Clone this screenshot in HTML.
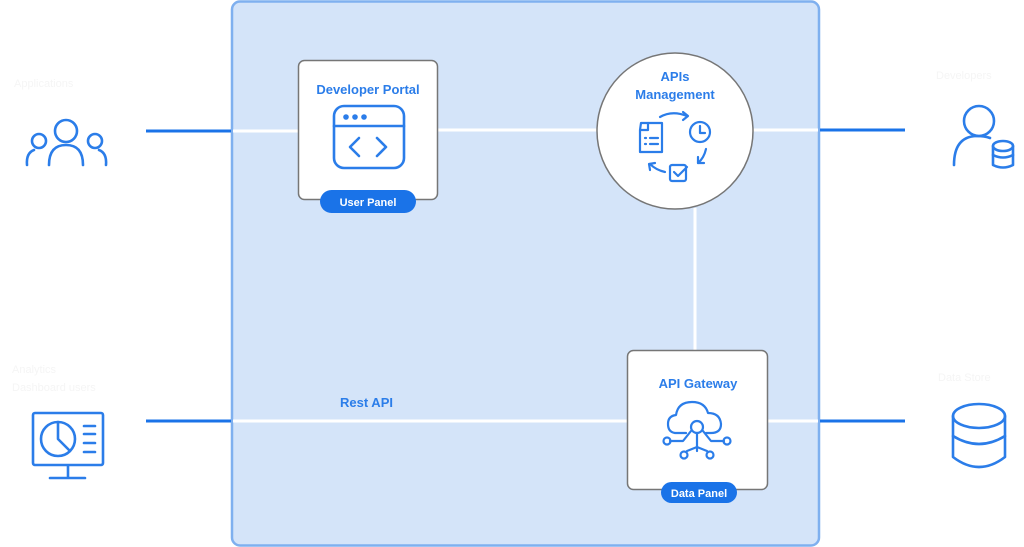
<!DOCTYPE html>
<html><head><meta charset="utf-8"><style>
html,body{margin:0;padding:0;background:#fff;}
body{width:1024px;height:547px;position:relative;overflow:hidden;font-family:"Liberation Sans",sans-serif;}
</style></head><body>
<svg width="1024" height="547" viewBox="0 0 1024 547" xmlns="http://www.w3.org/2000/svg" style="position:absolute;left:0;top:0">
<rect x="232" y="1.5" width="587" height="544" rx="8" fill="#d4e4f9" stroke="#7fb0ef" stroke-width="2.5"/>
<g stroke="#1a73e8" stroke-width="3">
<line x1="146" y1="131" x2="231" y2="131"/>
<line x1="820" y1="130" x2="905" y2="130"/>
<line x1="146" y1="421" x2="231" y2="421"/>
<line x1="820" y1="421" x2="905" y2="421"/>
</g>
<g stroke="#fff" stroke-width="3">
<line x1="233" y1="131" x2="298" y2="131"/>
<line x1="438" y1="130" x2="600" y2="130"/>
<line x1="750" y1="130" x2="818" y2="130"/>
<line x1="233" y1="421" x2="627" y2="421"/>
<line x1="768" y1="421" x2="818" y2="421"/>
<line x1="695" y1="208" x2="695" y2="350"/>
</g>
<!-- Dev portal -->
<rect x="298.5" y="60.5" width="139" height="139" rx="6" fill="#fff" stroke="#767676" stroke-width="1.5"/>
<text x="368" y="94" text-anchor="middle" font-size="13" font-weight="bold" fill="#2b7de9">Developer Portal</text>
<g fill="none" stroke="#2b7de9" stroke-width="2.6" stroke-linecap="round" stroke-linejoin="round">
<rect x="334" y="106" width="70" height="62" rx="10"/>
<line x1="334" y1="126" x2="404" y2="126"/>
<polyline points="359,138 350,147 359,156"/>
<polyline points="377,138 386,147 377,156"/>
</g>
<g fill="#2b7de9"><circle cx="346" cy="117" r="2.8"/><circle cx="355" cy="117" r="2.8"/><circle cx="364" cy="117" r="2.8"/></g>
<rect x="320" y="190" width="96" height="23" rx="11.5" fill="#1a73e8"/>
<text x="368" y="206" text-anchor="middle" font-size="11" font-weight="bold" fill="#fff">User Panel</text>
<!-- APIs management -->
<circle cx="675" cy="131" r="78" fill="#fff" stroke="#767676" stroke-width="1.5"/>
<text x="675" y="81" text-anchor="middle" font-size="13" font-weight="bold" fill="#2b7de9">APIs</text>
<text x="675" y="99" text-anchor="middle" font-size="13" font-weight="bold" fill="#2b7de9">Management</text>
<g fill="none" stroke="#2b7de9" stroke-width="2.2" stroke-linecap="round" stroke-linejoin="round">
<path d="M641 123 L649 123 L662 123 L662 152 L640 152 L640 130 Z"/>
<path d="M641 130 L648 130 L648 123"/>
<line x1="645" y1="138" x2="646" y2="138"/><line x1="650" y1="138" x2="658" y2="138"/>
<line x1="645" y1="144" x2="646" y2="144"/><line x1="650" y1="144" x2="658" y2="144"/>
<circle cx="700" cy="132" r="10"/>
<polyline points="700,126 700,133 705,133"/>
<path d="M660 117 Q672 110 687 116"/><polyline points="683,112 688,116 683,120"/>
<path d="M706 149 Q704 158 698 163"/><polyline points="698,157 698,163 704,163"/>
<path d="M665 172 Q656 170 650 164"/><polyline points="650,170 649,164 655,163"/>
<rect x="670" y="165" width="16" height="16" rx="2"/>
<polyline points="674,172 678,176 687,167"/>
</g>
<!-- Gateway -->
<rect x="627.5" y="350.5" width="140" height="139" rx="6" fill="#fff" stroke="#767676" stroke-width="1.5"/>
<text x="698" y="388" text-anchor="middle" font-size="13" font-weight="bold" fill="#2b7de9">API Gateway</text>
<g fill="none" stroke="#2b7de9" stroke-width="2.2" stroke-linecap="round" stroke-linejoin="round">
<path d="M686 433 L675 433 Q668 432 668 424 Q668 416 676 415 Q678 402 692 402 Q705 402 708 413 Q720 413 721 424 Q721 433 711 433 L706 433"/>
<circle cx="697" cy="427" r="6"/>
<line x1="697" y1="433" x2="697" y2="451"/>
<polyline points="691,431 683,441 670,441"/>
<polyline points="703,431 711,441 724,441"/>
<circle cx="667" cy="441" r="3.5"/><circle cx="727" cy="441" r="3.5"/>
<polyline points="697,447 687,451"/><polyline points="697,447 707,451"/>
<circle cx="684" cy="455" r="3.5"/><circle cx="710" cy="455" r="3.5"/>
</g>
<rect x="661" y="482" width="76" height="21" rx="10.5" fill="#1a73e8"/>
<text x="699" y="497" text-anchor="middle" font-size="11" font-weight="bold" fill="#fff">Data Panel</text>
<text x="340" y="407" font-size="13" font-weight="bold" fill="#2b7de9">Rest API</text>
<!-- left icons -->
<g fill="none" stroke="#2b7de9" stroke-width="2.6" stroke-linecap="round" stroke-linejoin="round">
<circle cx="66" cy="131" r="11"/>
<path d="M49 165 Q49 145 66 145 Q83 145 83 165"/>
<circle cx="39" cy="141" r="7"/>
<path d="M27 165 Q26 153 34 150"/>
<circle cx="95" cy="141" r="7"/>
<path d="M106 165 Q107 153 99 150"/>
<rect x="33" y="413" width="70" height="52" rx="2"/>
<line x1="68" y1="466" x2="68" y2="477"/><line x1="50" y1="478" x2="85" y2="478"/>
<circle cx="58" cy="439" r="17"/>
<polyline points="58,422 58,439 70,451"/>
<line x1="84" y1="426" x2="95" y2="426"/><line x1="84" y1="434" x2="95" y2="434"/>
<line x1="84" y1="443" x2="95" y2="443"/><line x1="84" y1="452" x2="95" y2="452"/>
<!-- right icons -->
<circle cx="979" cy="121" r="15"/>
<path d="M954 165 Q954 137 976 136 Q985 136 990 138"/>
<ellipse cx="1003" cy="146" rx="10" ry="5"/>
<path d="M993 146 L993 165 Q1003 170 1013 165 L1013 146"/>
<path d="M993 155 Q1003 160 1013 155"/>
<ellipse cx="979" cy="416" rx="26" ry="12"/>
<path d="M953 416 L953 457 Q979 477 1005 457 L1005 416"/>
<path d="M953 436 Q979 452 1005 436"/>
</g>
<!-- faint labels -->
<g fill="#f5f5f5" font-size="11">
<text x="14" y="87">Applications</text>
<text x="12" y="373">Analytics</text>
<text x="12" y="391">Dashboard users</text>
<text x="936" y="79">Developers</text>
<text x="938" y="381">Data Store</text>
</g>
</svg>
</body></html>
